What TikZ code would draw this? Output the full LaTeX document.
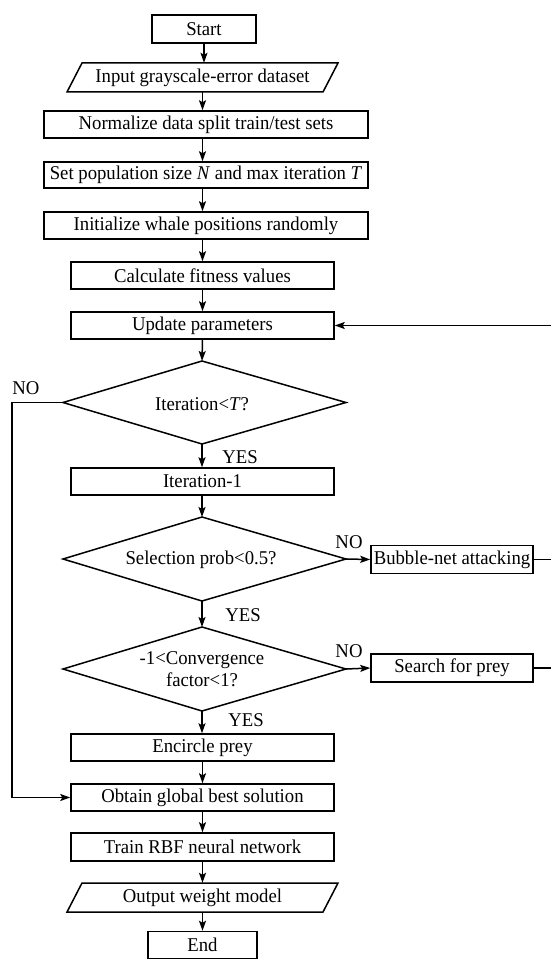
\documentclass[tikz,border=0pt]{standalone}
\usepackage{fontspec}
\setmainfont[FakeStretch=0.96]{Liberation Serif}
\usetikzlibrary{arrows.meta}
\begin{document}
\begin{tikzpicture}[x=1pt,y=-1pt,
  txt/.style={inner sep=0pt, font=\fontsize{19.5}{22}\selectfont},
  box/.style={txt, draw, line width=1.5pt},
  wbox/.style={box, minimum width=324pt, minimum height=27pt},
  mbox/.style={box, minimum width=263pt, minimum height=27pt},
  outline/.style={draw, line width=1.5pt, line join=miter},
  ln/.style={line width=1.5pt},
  arr/.style={ln, -{Stealth[length=10pt,width=7pt,inset=2pt]}}]
\useasboundingbox (0,0) rectangle (551,960);

% boxes
\node[box, minimum width=104pt, minimum height=28pt] (start) at (204,29) {Start};
\draw[outline] (82,63) -- (338,63) -- (323,92) -- (67,92) -- cycle;
\node[txt, minimum width=256pt, minimum height=29pt] (input) at (202.5,77.5) {Input grayscale-error dataset};
\node[wbox] (norm) at (206,124.5) {Normalize data split train/test sets};
\node[wbox, minimum height=26pt] (setpop) at (206,175) {Set population size \textit{N} and max iteration \textit{T}};
\node[wbox] (init) at (206,225.5) {Initialize whale positions randomly};
\node[mbox] (calc) at (202.5,275.5) {Calculate fitness values};
\node[mbox] (update) at (202.5,325.5) {Update parameters};

% diamond 1
\coordinate (d1t) at (202,361);
\coordinate (d1r) at (346,402.5);
\coordinate (d1b) at (202,444);
\coordinate (d1l) at (63,402.5);
\draw[outline] (d1t) -- (d1r) -- (d1b) -- (d1l) -- cycle;
\node[txt] (d1) at (202,404) {Iteration<\textit{T}?};

\node[mbox] (iter1) at (202.5,481.5) {Iteration-1};

% diamond 2
\coordinate (d2t) at (202,517);
\coordinate (d2r) at (346,559);
\coordinate (d2b) at (202,601);
\coordinate (d2l) at (63,559);
\draw[outline] (d2t) -- (d2r) -- (d2b) -- (d2l) -- cycle;
\node[txt] (d2) at (201,560) {Selection prob<0.5?};
\node[box, minimum width=162pt, minimum height=28pt] (bubble) at (452,559.5) {Bubble-net attacking};

% diamond 3
\coordinate (d3t) at (202,627);
\coordinate (d3r) at (346,669);
\coordinate (d3b) at (202,711);
\coordinate (d3l) at (63,669);
\draw[outline] (d3t) -- (d3r) -- (d3b) -- (d3l) -- cycle;
\node[txt, align=center] (d3) at (202,669) {-1<Convergence\\factor<1?};
\node[box, minimum width=162pt, minimum height=28pt] (search) at (452,668) {Search for prey};

\node[mbox] (encircle) at (202.5,747.5) {Encircle prey};
\node[mbox] (obtain) at (202.5,797.5) {Obtain global best solution};
\node[mbox, minimum height=28pt] (train) at (202.5,847) {Train RBF neural network};
\draw[outline] (82,883) -- (338,883) -- (323,912) -- (67,912) -- cycle;
\node[txt, minimum width=256pt, minimum height=29pt] (output) at (202.5,897.5) {Output weight model};
\node[box, minimum width=109pt, minimum height=27pt] (end) at (202.5,945) {End};

% helper coordinates
\coordinate (lx) at (12,0);
\coordinate (rx) at (551,0);

% vertical flow
\draw[arr] (start.south) -- (start.south |- input.north);
\draw[arr] (input.south) -- (input.south |- norm.north);
\draw[arr] (input.south |- norm.south) -- (input.south |- setpop.north);
\draw[arr] (input.south |- setpop.south) -- (input.south |- init.north);
\draw[arr] (input.south |- init.south) -- (input.south |- calc.north);
\draw[arr] (calc.south) -- (update.north);
\draw[arr] (update.south) -- (d1t);
\draw[arr] (d1b) -- (d1b |- iter1.north);
\draw[arr] (d1b |- iter1.south) -- (d2t);
\draw[arr] (d2b) -- (d3t);
\draw[arr] (d3b) -- (d3b |- encircle.north);
\draw[arr] (encircle.south) -- (obtain.north);
\draw[arr] (obtain.south) -- (train.north);
\draw[arr] (train.south) -- (output.north);
\draw[arr] (output.south) -- (output.south |- end.north);

% branches
\draw[arr] (d1l) -- (lx |- d1l) -- (lx |- obtain.west) -- (obtain.west);
\draw[arr] (d2r) -- (bubble.west);
\draw[arr] (d3r) -- (search.west);
\draw[ln] (bubble.east) -- (rx |- bubble.east);
\draw[ln] (search.east) -- (rx |- search.east);
\draw[arr] (rx |- update.east) -- (update.east);

% labels
\node[txt] (no1) at (26,388) {NO};
\node[txt] (yes1) at (240,457) {YES};
\node[txt] (no2) at (349,542) {NO};
\node[txt] (yes2) at (243,615) {YES};
\node[txt] (no3) at (349,651) {NO};
\node[txt] (yes3) at (246,720) {YES};
\end{tikzpicture}
\end{document}
